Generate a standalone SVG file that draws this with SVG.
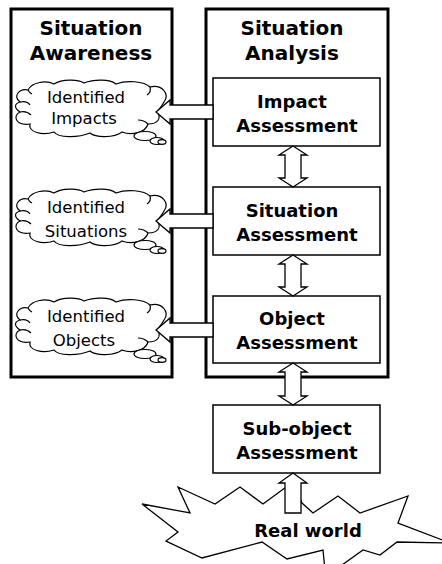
<svg xmlns="http://www.w3.org/2000/svg" xmlns:xlink="http://www.w3.org/1999/xlink" width="442" height="564" viewBox="0 0 442 564">
<style>
.outer{fill:#fff;stroke:#000;stroke-width:3}
.box{fill:#fff;stroke:#000;stroke-width:1.5}
.cloud{fill:#fff;stroke:#000;stroke-width:1.2}
.curl{fill:none;stroke:#000;stroke-width:1.2}
.arrow{fill:#fff;stroke:#000;stroke-width:1.3;stroke-linejoin:miter}
.title{font-family:"DejaVu Sans",Verdana,sans-serif;font-weight:bold;font-size:20px;text-anchor:middle;fill:#000}
.label{font-family:"DejaVu Sans",Verdana,sans-serif;font-weight:bold;font-size:18px;text-anchor:middle;fill:#000}
.ctext{font-family:"DejaVu Sans",Verdana,sans-serif;font-size:16.5px;text-anchor:middle;fill:#000}
</style>
<defs>
<g id="cloudShape">
<path class="cloud" d="M 8,22 C 0,16 8,8 16,10 C 20,2 34,0 42,4 C 50,-1 66,-1 72,3 C 82,-1 98,-1 104,4 C 114,0 132,1 138,7 C 150,4 158,14 152,22 C 150,26 148,28 145,32 C 150,38 146,44 136,44 C 134,52 120,56 110,52 C 102,58 84,58 78,53 C 66,58 46,58 42,52 C 30,56 16,52 18,44 C 4,46 0,36 8,32 C 2,28 2,24 8,22 Z"/>
<path class="curl" d="M 8,22 C 12,21 16,22 18,25 M 8,32 C 12,31 16,32 19,35 M 138,7 C 139,10 138,13 135,15 M 136,44 C 133,41 130,40 126,40 M 16,10 C 17,12 18,13 20,14"/>
<ellipse class="cloud" cx="133" cy="56" rx="11" ry="4.5"/>
<ellipse class="cloud" cx="145" cy="61" rx="7" ry="3.5"/>
<ellipse class="cloud" cx="150" cy="62" rx="4" ry="2.3"/>
</g>
</defs>

<g id="situation-awareness">
<rect class="outer" x="11" y="9" width="161" height="368"/>
<text class="title" x="91" y="35">Situation</text>
<text class="title" x="91" y="60">Awareness</text>
</g>

<g id="situation-analysis">
<rect class="outer" x="206" y="9" width="182" height="368"/>
<text class="title" x="292" y="35">Situation</text>
<text class="title" x="292" y="60">Analysis</text>
</g>

<g id="identified-impacts">
<use xlink:href="#cloudShape" transform="translate(12,80)"/>
<text class="ctext" x="86" y="103">Identified</text>
<text class="ctext" x="84" y="124">Impacts</text>
</g>

<g id="identified-situations">
<use xlink:href="#cloudShape" transform="translate(12,189)"/>
<text class="ctext" x="86" y="213">Identified</text>
<text class="ctext" x="86" y="237">Situations</text>
</g>

<g id="identified-objects">
<use xlink:href="#cloudShape" transform="translate(12,298)"/>
<text class="ctext" x="86" y="322">Identified</text>
<text class="ctext" x="84" y="346">Objects</text>
</g>

<g id="impact-assessment">
<rect class="box" x="213" y="78" width="167" height="68"/>
<text class="label" x="292" y="108">Impact</text>
<text class="label" x="297" y="132">Assessment</text>
</g>

<g id="situation-assessment">
<rect class="box" x="213" y="187" width="167" height="68"/>
<text class="label" x="292" y="217">Situation</text>
<text class="label" x="297" y="241">Assessment</text>
</g>

<g id="object-assessment">
<rect class="box" x="213" y="296" width="167" height="67"/>
<text class="label" x="292" y="325">Object</text>
<text class="label" x="297" y="349">Assessment</text>
</g>

<g id="subobject-assessment">
<rect class="box" x="213" y="405" width="167" height="68"/>
<text class="label" x="297" y="435">Sub-object</text>
<text class="label" x="297" y="459">Assessment</text>
</g>

<g id="real-world">
<polygon class="box" style="stroke-width:1.3" points="178,487 215,504 240,487 263,504 293,482 302,503 313,513 338,496 360,513 408,496 398,523 450,543 397,542 380,555 363,550 335,570 325,570 323,550 287,559 262,542 202,558 166,541 178,532 142,504 190,513"/>
<text class="label" x="308" y="537">Real world</text>
</g>

<g id="connectors">
<polygon class="arrow" points="213,105 170,105 170,100 156,112 170,124 170,119 213,119"/>
<polygon class="arrow" points="213,214 170,214 170,209 156,221 170,233 170,228 213,228"/>
<polygon class="arrow" points="213,323 170,323 170,318 156,330 170,342 170,337 213,337"/>
<polygon class="arrow" points="293,146 307,155 301,155 301,178 307,178 293,187 279,178 285,178 285,155 279,155"/>
<polygon class="arrow" points="293,255 307,264 301,264 301,287 307,287 293,296 279,287 285,287 285,264 279,264"/>
<polygon class="arrow" points="293,363 307,372 301,372 301,396 307,396 293,405 279,396 285,396 285,372 279,372"/>
<polygon class="arrow" points="293,473 307,483 301,483 301,513 285,513 285,483 279,483"/>
</g>
</svg>
